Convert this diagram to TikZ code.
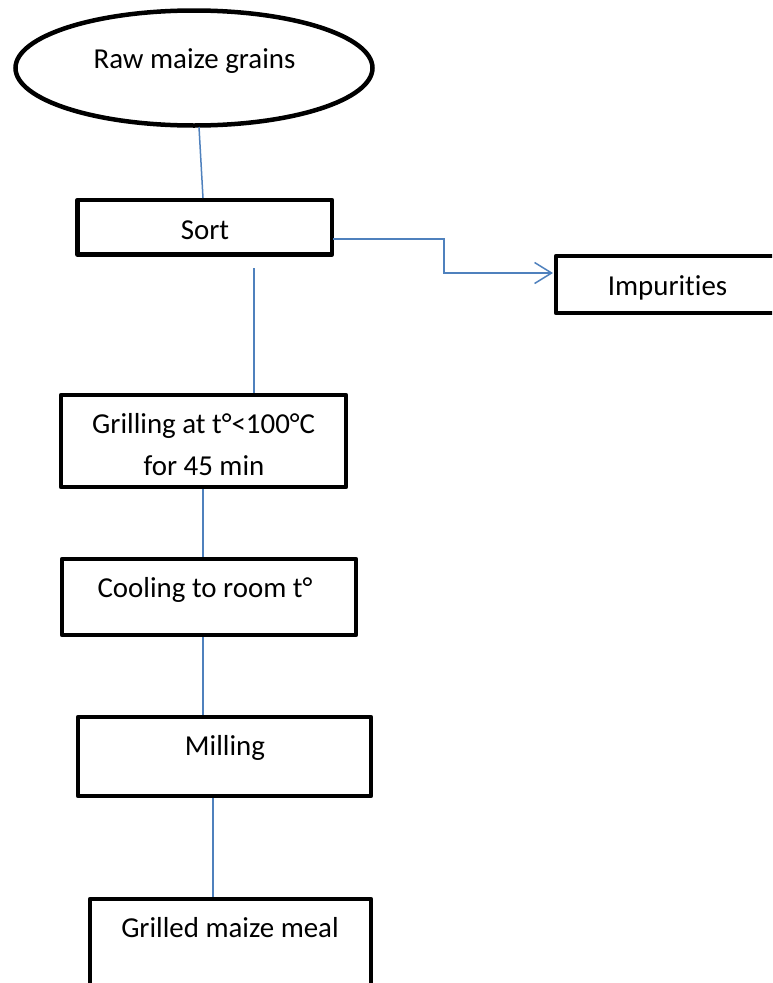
\documentclass[tikz,border=0pt]{standalone}
\usepackage{fontspec}
\setmainfont{Carlito}[Ligatures=NoCommon]
\usetikzlibrary{shapes.geometric,arrows.meta}
\definecolor{linkblue}{HTML}{4F81BD}
\tikzset{
  boxshape/.style={draw=black,line width=4.5pt,rectangle,inner sep=0pt,outer sep=0pt,line join=round},
  ovalshape/.style={draw=black,line width=4.5pt,ellipse,inner sep=0pt,outer sep=0pt},
  lbl/.style={anchor=base,inner sep=0pt,font=\fontsize{28.9}{42}\selectfont},
  link/.style={draw=linkblue,line width=1.5pt},
}
\begin{document}
\begin{tikzpicture}[x=1pt,y=-1pt]
\useasboundingbox (0,0) rectangle (772,983);
\clip (0,0) rectangle (772,983);
\fill[white] (0,0) rectangle (772,983);
% shapes
\node[ovalshape,minimum width=357pt,minimum height=115pt] (raw) at (194,68) {};
\node[boxshape,minimum width=254.5pt,minimum height=54.5pt] (sort) at (204.75,227.25) {};
\node[boxshape,minimum width=244pt,minimum height=57pt] (imp) at (678,284.5) {};
\node[boxshape,minimum width=285pt,minimum height=92pt] (grill) at (203.5,441) {};
\node[boxshape,minimum width=294pt,minimum height=76pt] (cool) at (209,597) {};
\node[boxshape,minimum width=293pt,minimum height=79pt] (mill) at (224.5,756.5) {};
\node[boxshape,minimum width=281pt,minimum height=111pt] (meal) at (230.5,954.5) {};
% texts
\node[lbl] (tRaw) at (194.5,68) {Raw maize grains};
\node[lbl] (tSort) at (205,239.5) {Sort};
\node[lbl] (tImp) at (667.5,295) {Impurit\kern0pt ies};
\node[lbl] (tGrillA) at (203.7,433) {Grilling at t°<100°C};
\node[lbl] (tGrillB) at (204,475) {for 45 min};
\node[lbl] (tCool) at (205,597) {Cooling to room t°};
\node[lbl] (tMill) at (225,755) {Milling};
\node[lbl] (tMeal) at (230,937) {Grilled maize meal};
% connector coordinates
\coordinate (c1a) at (199,127);
\coordinate (c1b) at (203,198);
\coordinate (c2a) at (333,239);
\coordinate (c2b) at (444,239);
\coordinate (c2c) at (444,273);
\coordinate (c2d) at (553,273);
\coordinate (c3a) at (254,268);
\coordinate (c3b) at (254,393);
\coordinate (c4a) at (203,489);
\coordinate (c4b) at (203,557);
\coordinate (c5a) at (203,637);
\coordinate (c5b) at (203,715);
\coordinate (c6a) at (213,798);
\coordinate (c6b) at (213,897);
% connectors
\draw[link] (c1a) -- (c1b);
\draw[link,-{Straight Barb[length=17pt,width=21pt,line width=1.5pt]}] (c2a) -- (c2b) -- (c2c) -- (c2d);
\draw[link] (c3a) -- (c3b);
\draw[link] (c4a) -- (c4b);
\draw[link] (c5a) -- (c5b);
\draw[link] (c6a) -- (c6b);
\end{tikzpicture}
\end{document}
